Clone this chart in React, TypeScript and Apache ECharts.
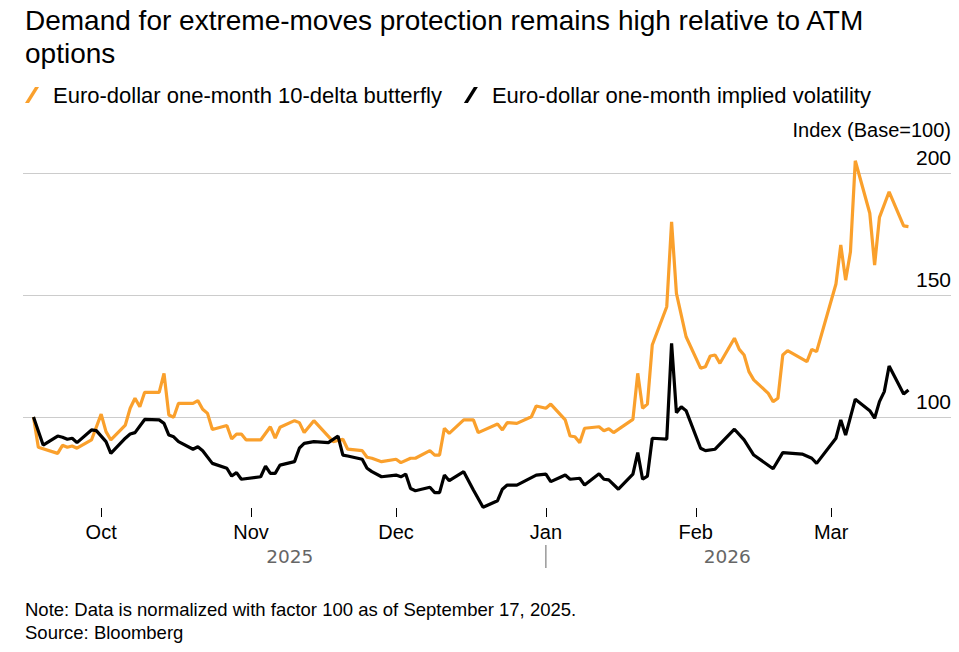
import React, { useEffect, useRef } from 'react';
import * as echarts from 'echarts';

const titleText = 'Demand for extreme-moves protection remains high relative to ATM\noptions';
const seriesNames = ['Euro-dollar one-month 10-delta butterfly', 'Euro-dollar one-month implied volatility'];
const unitLabel = 'Index (Base=100)';
const noteLines = ['Note: Data is normalized with factor 100 as of September 17, 2025.', 'Source: Bloomberg'];
const monthLabels = ['Jan', 'Feb', 'Mar', 'Apr', 'May', 'Jun', 'Jul', 'Aug', 'Sep', 'Oct', 'Nov', 'Dec'];
const yearLabels = ['2025', '2026'];
const yTickLabels = [100, 150, 200];

const butterflyDates = ['2025-09-17','2025-09-18','2025-09-22','2025-09-23','2025-09-24','2025-09-25','2025-09-26','2025-09-29',
'2025-10-01','2025-10-02','2025-10-03','2025-10-06','2025-10-07','2025-10-08','2025-10-09','2025-10-10','2025-10-13','2025-10-14','2025-10-15','2025-10-16','2025-10-17','2025-10-20','2025-10-21','2025-10-22','2025-10-23','2025-10-24','2025-10-27','2025-10-28','2025-10-29','2025-10-30','2025-10-31',
'2025-11-03','2025-11-05','2025-11-06','2025-11-07','2025-11-10','2025-11-11','2025-11-12','2025-11-14','2025-11-18','2025-11-20','2025-11-21','2025-11-24','2025-11-25','2025-11-26','2025-11-28',
'2025-12-01','2025-12-02','2025-12-04','2025-12-05','2025-12-08','2025-12-09','2025-12-10','2025-12-11','2025-12-12','2025-12-15','2025-12-17','2025-12-18','2025-12-22','2025-12-23','2025-12-24','2025-12-26','2025-12-29','2025-12-30',
'2026-01-01','2026-01-02','2026-01-05','2026-01-06','2026-01-07','2026-01-08','2026-01-09','2026-01-12','2026-01-13','2026-01-14','2026-01-15','2026-01-19','2026-01-20','2026-01-21','2026-01-22','2026-01-23','2026-01-26','2026-01-27','2026-01-28','2026-01-30',
'2026-02-02','2026-02-03','2026-02-04','2026-02-05','2026-02-06','2026-02-09','2026-02-10','2026-02-11','2026-02-12','2026-02-13','2026-02-16','2026-02-17','2026-02-18','2026-02-19','2026-02-20','2026-02-24','2026-02-25','2026-02-26',
'2026-03-02','2026-03-03','2026-03-04','2026-03-05','2026-03-06','2026-03-09','2026-03-10','2026-03-11','2026-03-13','2026-03-16','2026-03-17'];
const butterflyValues = [100,87.6,85.1,88.4,87.6,88.1,87.2,90.6,
101.2,94,90.6,96.7,103.6,107.7,104.2,110.1,110.1,117.9,100.8,99.9,105.6,105.6,106.7,103.2,101.5,94.9,96.5,91,93,93,90.6,
90.6,96,91.3,95.8,98.5,97.7,93.6,98.5,89.9,90.9,86.8,86.2,83.5,83.1,81.7,
82.7,81.3,83.1,83.1,86.2,84.4,84.4,95.4,93.3,98.8,98.8,93.6,97.1,94.7,97.7,97.4,100.1,104.5,
103.6,105.3,98.8,92.2,91.9,89.5,95.4,96,94.4,95.2,93.6,99,117.9,103.6,105.3,129.5,145.2,180,150.7,132.9,
120,120.6,125,125.4,122,132.3,127.7,125.4,118.6,115.2,109.7,106.3,107.7,125.4,127.2,122.7,127.7,126.8,
154.5,170.5,156.1,167.7,205,183.5,162.3,181.8,192.3,178.3,178];

const volDates = ['2025-09-17','2025-09-19','2025-09-22','2025-09-23','2025-09-24','2025-09-25','2025-09-26','2025-09-29','2025-09-30',
'2025-10-02','2025-10-03','2025-10-06','2025-10-07','2025-10-08','2025-10-10','2025-10-13','2025-10-14','2025-10-15','2025-10-16','2025-10-17','2025-10-20','2025-10-21','2025-10-22','2025-10-24','2025-10-27','2025-10-28','2025-10-29','2025-10-30',
'2025-11-03','2025-11-04','2025-11-05','2025-11-06','2025-11-07','2025-11-10','2025-11-11','2025-11-12','2025-11-14','2025-11-17','2025-11-19','2025-11-20','2025-11-21','2025-11-24','2025-11-25','2025-11-26','2025-11-28',
'2025-12-01','2025-12-02','2025-12-03','2025-12-04','2025-12-05','2025-12-08','2025-12-09','2025-12-10','2025-12-11','2025-12-12','2025-12-15','2025-12-17','2025-12-19','2025-12-22','2025-12-23','2025-12-24','2025-12-26','2025-12-30',
'2026-01-01','2026-01-02','2026-01-04','2026-01-05','2026-01-06','2026-01-08','2026-01-09','2026-01-12','2026-01-13','2026-01-14','2026-01-16','2026-01-19','2026-01-20','2026-01-21','2026-01-22','2026-01-23','2026-01-26','2026-01-27','2026-01-28','2026-01-29','2026-01-30',
'2026-02-02','2026-02-03','2026-02-05','2026-02-09','2026-02-11','2026-02-13','2026-02-17','2026-02-19','2026-02-23','2026-02-25','2026-02-26',
'2026-03-02','2026-03-03','2026-03-04','2026-03-06','2026-03-09','2026-03-10','2026-03-11','2026-03-12','2026-03-13','2026-03-16','2026-03-17'];
const volValues = [100,88.5,92.2,91.7,90.9,91.3,89.5,94.7,94.4,
89.9,85.1,91.3,93.0,93.6,99.0,98.8,97.4,92.6,91.9,89.9,86.8,87.8,86.2,81,79,75.8,77.2,74.5,
75.5,79.9,76.9,76.9,80.3,81.7,87.2,89.2,89.9,89.5,92.2,84.4,84,82.7,79,77.6,75.5,
76.2,75.5,76.6,70.7,69.8,71.2,69,69,76.2,73.9,77.6,70.1,63,65.7,70.4,72.1,72.1,76.2,
76.6,73.5,75.3,76.2,74.5,74.9,72.1,76.7,74.5,74.2,70.4,76.6,85.4,74.5,75.8,91.3,90.9,130.2,101.8,104.2,102.6,
87.2,86.2,86.8,95,90.6,84.4,78.8,85.4,84.8,83.1,81,
91.3,98.8,92.6,107.3,102.6,99.5,106.3,110.4,120.9,109.4,111.1];

const DAY = 86400000;
const ts = (s: string) => {
  const [y, m, d] = s.split('-').map(Number);
  return new Date(y, m - 1, d).getTime();
};
const zip = (dates: string[], vals: number[]) => dates.map((d, i) => [ts(d), vals[i]]);

const FONT = 'Liberation Sans';
const ORANGE = '#FAA02C';
const SLASH = 'path://M0,16 L10,0 L14,0 L4,16 Z';

export default function App() {
  const ref = useRef<HTMLDivElement>(null);
  useEffect(() => {
    document.body.style.margin = '0';
    const chart = echarts.init(ref.current!, null, { renderer: 'svg' });
    const start = ts(butterflyDates[0]);
    const end = ts(butterflyDates[butterflyDates.length - 1]);
    const option: any = {
      animation: false,
      backgroundColor: '#fff',
      textStyle: { fontFamily: FONT },
      title: {
        text: titleText,
        left: 25,
        top: 4,
        padding: 0,
        textStyle: { fontFamily: FONT, fontSize: 28, fontWeight: 'normal', color: '#000', lineHeight: 33 },
      },
      legend: {
        left: 25,
        top: 84,
        padding: 0,
        itemGap: 22,
        itemWidth: 14,
        itemHeight: 16,
        selectedMode: false,
        textStyle: { fontFamily: FONT, fontSize: 22, color: '#000', padding: [0, 0, 0, 9] },
        data: [
          { name: seriesNames[0], icon: SLASH, itemStyle: { color: ORANGE } },
          { name: seriesNames[1], icon: SLASH, itemStyle: { color: '#000' } },
        ],
      },
      grid: { left: 23, right: 8, top: 148.6, bottom: 113, containLabel: false },
      xAxis: {
        type: 'time',
        min: start - 2.17 * DAY,
        max: start + 189.8 * DAY,
        offset: -31,
        minInterval: 28 * DAY,
        maxInterval: 31 * DAY,
        axisLine: { show: false },
        axisTick: { show: true, length: 9, lineStyle: { color: '#000', width: 1 } },
        splitLine: { show: false },
        axisLabel: {
          fontFamily: FONT,
          fontSize: 20,
          color: '#000',
          margin: 14,
          formatter: (v: number) => monthLabels[new Date(v).getMonth()],
        },
      },
      yAxis: {
        type: 'value',
        position: 'right',
        min: 50,
        max: 210,
        interval: 50,
        name: unitLabel,
        nameLocation: 'end',
        nameGap: 9,
        nameTextStyle: { fontFamily: FONT, fontSize: 20, color: '#000', align: 'right', verticalAlign: 'bottom' },
        axisLine: { show: false },
        axisTick: { show: false },
        splitLine: { show: true, showMinLine: false, showMaxLine: false, lineStyle: { color: '#cccccc', width: 1 } },
        axisLabel: {
          inside: true,
          margin: 0,
          fontFamily: FONT,
          fontSize: 21,
          color: '#000',
          verticalAlign: 'bottom',
          padding: [0, 0, 5, 0],
          formatter: (v: number) => (yTickLabels.includes(v) ? String(v) : ''),
        },
      },
      series: [
        {
          name: seriesNames[0],
          type: 'line',
          data: zip(butterflyDates, butterflyValues),
          showSymbol: false,
          symbol: 'none',
          lineStyle: { color: ORANGE, width: 3.2 },
          itemStyle: { color: ORANGE },
          clip: false,
          z: 3,
        },
        {
          name: seriesNames[1],
          type: 'line',
          data: zip(volDates, volValues),
          showSymbol: false,
          symbol: 'none',
          lineStyle: { color: '#000', width: 3.2 },
          itemStyle: { color: '#000' },
          clip: false,
          z: 4,
        },
      ],
    };
    chart.setOption(option);

    const px = (t: number) => chart.convertToPixel({ xAxisIndex: 0 }, t) as number;
    const jan1 = ts('2026-01-01');
    const xStart = px(start);
    const xJan = px(jan1);
    const xEnd = px(end);
    const yearFont = '18.5px "DejaVu Sans"';
    const noteFont = `18.5px "${FONT}"`;
    chart.setOption({
      graphic: [
        { type: 'text', x: (xStart + xJan) / 2, y: 556, style: { text: yearLabels[0], fill: '#666', font: yearFont, align: 'center', verticalAlign: 'middle' } },
        { type: 'text', x: (xJan + xEnd) / 2, y: 556, style: { text: yearLabels[1], fill: '#666', font: yearFont, align: 'center', verticalAlign: 'middle' } },
        { type: 'line', shape: { x1: xJan, y1: 545, x2: xJan, y2: 568 }, style: { stroke: '#666', lineWidth: 1 } },
        { type: 'text', x: 25, y: 609, style: { text: noteLines[0], fill: '#000', font: noteFont, verticalAlign: 'middle' } },
        { type: 'text', x: 25, y: 632, style: { text: noteLines[1], fill: '#000', font: noteFont, verticalAlign: 'middle' } },
      ],
    });
    return () => chart.dispose();
  }, []);
  return <div ref={ref} style={{ width: 959, height: 652 }} />;
}
